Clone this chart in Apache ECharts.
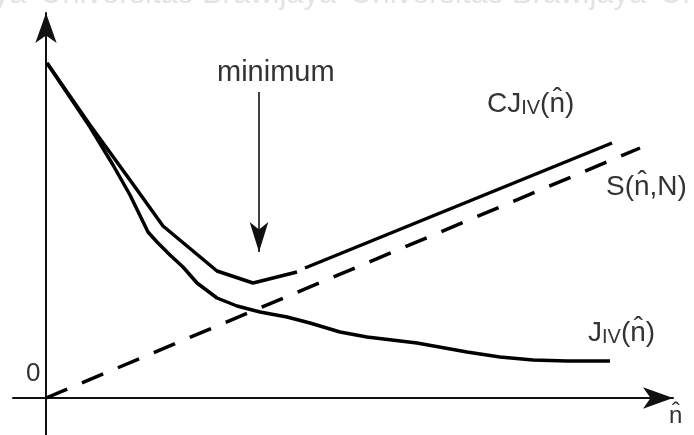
<!DOCTYPE html>
<html>
<head>
<meta charset="utf-8">
<script src="https://cdn.jsdelivr.net/npm/echarts@6/dist/echarts.min.js"></script>
<style>html,body{margin:0;padding:0;background:#fff}#c{width:694px;height:435px}</style>
</head>
<body>
<div id="c"></div>
<script>
// x = model order n̂ (arbitrary units), y = criterion value (arbitrary units)
var cjLeft = [[1,335],[44,273],[84,218],[117,172],[171,127],[207,115],[251,126]];
var cjRight = [[259,130],[566,255]];
var jIV = [[1,335],[44,271],[67,233],[84,203],[102,166],[111,156],[124,143],[137,131],[151,115],[171,100],[191,92],[214,86],[241,81],[264,75],[294,66],[321,61],[371,55],[421,46],[454,41],[487,38],[521,37],[564,37]];
var sLine = [[0,0],[594,250]];
var minArrow = [[213,306],[213,146]];

var chart = echarts.init(document.getElementById('c'));
var F = 'Liberation Sans, Arial, sans-serif';
var TC = '#333';
var lineBase = {type:'line', showSymbol:false, symbol:'none', silent:true, animation:false};
function richLabel(main1, sub, main2){
  return {
    text: '{a|' + main1 + '}{s|' + sub + '}{a|' + main2 + '}',
    rich: {
      a: {fontSize: 28, fontFamily: F, fill: TC, lineHeight: 28, verticalAlign: 'bottom'},
      s: {fontSize: 20, fontFamily: F, fill: TC, lineHeight: 18, verticalAlign: 'bottom'}
    }
  };
}
var wm = {fontSize: 31, fontFamily: F, fill: '#e3e3e3', textVerticalAlign: 'bottom'};
chart.setOption({
  animation: false,
  grid: {left: 13, right: 21, top: 13, bottom: 0},
  xAxis: {
    type: 'value', min: -33, max: 627,
    axisLine: {show: true, onZero: true, symbol: ['none','arrow'], symbolSize: [16, 30], lineStyle: {color: '#111', width: 2}},
    axisTick: {show: false}, axisLabel: {show: false}, splitLine: {show: false}
  },
  yAxis: {
    type: 'value', min: -37, max: 385,
    axisLine: {show: true, onZero: true, symbol: ['none','arrow'], symbolSize: [16, 30], lineStyle: {color: '#111', width: 2}},
    axisTick: {show: false}, axisLabel: {show: false}, splitLine: {show: false}
  },
  series: [
    Object.assign({}, lineBase, {name: 'CJ_IV', data: cjLeft, lineStyle: {color: '#000', width: 3.5},
      markLine: {silent: true, symbol: ['none','arrow'], symbolSize: [14, 30], label: {show: false},
        lineStyle: {color: '#111', width: 1.6, type: 'solid'},
        data: [[{coord: minArrow[0]}, {coord: minArrow[1]}]]}}),
    Object.assign({}, lineBase, {name: 'CJ_IV b', data: cjRight, lineStyle: {color: '#000', width: 3.5}}),
    Object.assign({}, lineBase, {name: 'J_IV', data: jIV, lineStyle: {color: '#000', width: 3.5}}),
    Object.assign({}, lineBase, {name: 'S', data: sLine, lineStyle: {color: '#000', width: 3.5, type: [23, 16]}})
  ],
  graphic: [
    {type: 'text', silent: true, style: Object.assign({text: 'Universitas Brawijaya', x: -270, y: 10}, wm)},
    {type: 'text', silent: true, style: Object.assign({text: 'Universitas Brawijaya', x: 40, y: 10}, wm)},
    {type: 'text', silent: true, style: Object.assign({text: 'Universitas Brawijaya', x: 350, y: 10}, wm)},
    {type: 'text', silent: true, style: Object.assign({text: 'Universitas Brawijaya', x: 660, y: 10}, wm)},
    {type: 'text', silent: true, style: {text: 'minimum', x: 217, y: 58, textVerticalAlign: 'top', fontSize: 29, fontFamily: F, fill: TC}},
    {type: 'text', silent: true, style: Object.assign(richLabel('CJ', 'IV', '(n\u0302)'), {x: 487, y: 118, textVerticalAlign: 'bottom'})},
    {type: 'text', silent: true, style: {text: 'S(n\u0302,N)', x: 606, y: 173, textVerticalAlign: 'top', fontSize: 28, fontFamily: F, fill: TC}},
    {type: 'text', silent: true, style: Object.assign(richLabel('J', 'IV', '(n\u0302)'), {x: 588, y: 347, textVerticalAlign: 'bottom'})},
    {type: 'text', silent: true, style: {text: '0', x: 26, y: 361, textVerticalAlign: 'top', fontSize: 26, fontFamily: F, fill: TC}},
    {type: 'text', silent: true, style: {text: 'n\u0302', x: 669, y: 404, textVerticalAlign: 'top', fontSize: 24, fontFamily: F, fill: TC}}
  ]
});
</script>
</body>
</html>
